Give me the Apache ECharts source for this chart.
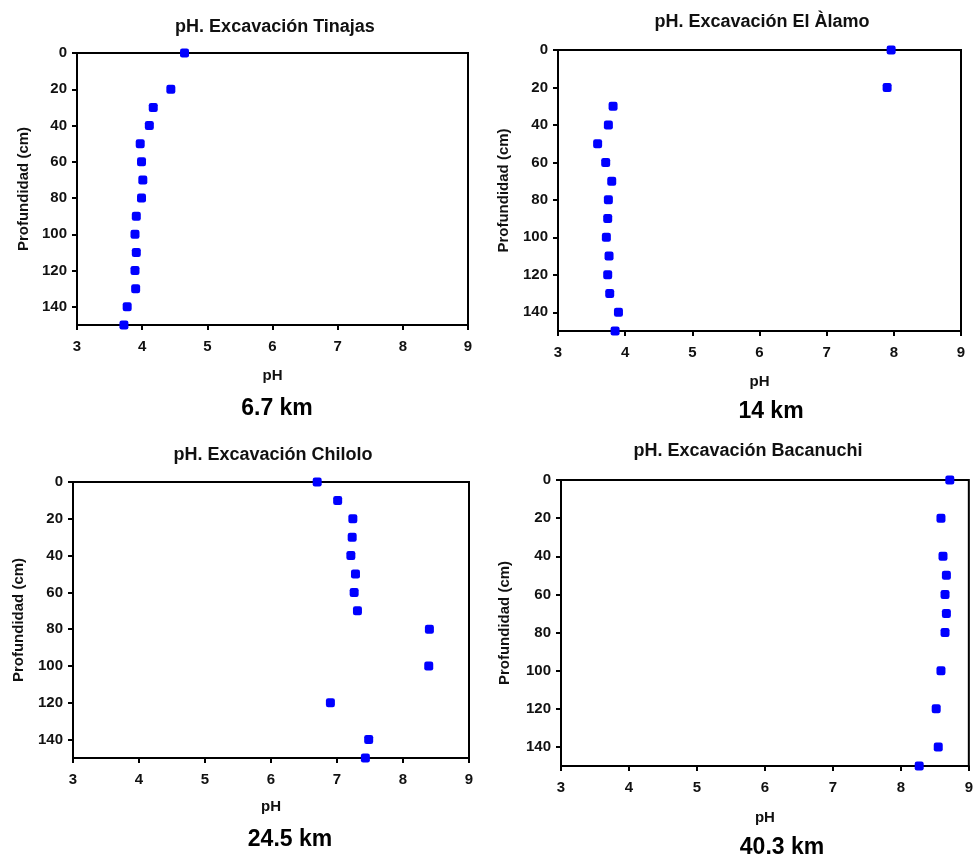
<!DOCTYPE html>
<html>
<head>
<meta charset="utf-8">
<script src="https://cdn.jsdelivr.net/npm/echarts@6/dist/echarts.min.js"></script>
<style>
  html, body { margin: 0; padding: 0; background: #fff; }
  #chart { width: 976px; height: 858px; }
</style>
</head>
<body>
<div id="chart"></div>
<script>
// Soil pH profiles by depth at four excavation sites
const titles = ['pH. Excavación Tinajas', 'pH. Excavación El Àlamo', 'pH. Excavación Chilolo', 'pH. Excavación Bacanuchi'];
const distances = ['6.7 km', '14 km', '24.5 km', '40.3 km'];

const tinajasDepth = [0, 20, 30, 40, 50, 60, 70, 80, 90, 100, 110, 120, 130, 140, 150];
const tinajasPH    = [4.65, 4.44, 4.17, 4.11, 3.97, 3.99, 4.01, 3.99, 3.91, 3.89, 3.91, 3.89, 3.90, 3.77, 3.72];

const alamoDepth = [0, 20, 30, 40, 50, 60, 70, 80, 90, 100, 110, 120, 130, 140, 150];
const alamoPH    = [7.96, 7.90, 3.82, 3.75, 3.59, 3.71, 3.80, 3.75, 3.74, 3.72, 3.76, 3.74, 3.77, 3.90, 3.85];

const chiloloDepth = [0, 10, 20, 30, 40, 50, 60, 70, 80, 100, 120, 140, 150];
const chiloloPH    = [6.70, 7.01, 7.24, 7.23, 7.21, 7.28, 7.26, 7.31, 8.40, 8.39, 6.90, 7.48, 7.43];

const bacanuchiDepth = [0, 20, 40, 50, 60, 70, 80, 100, 120, 140, 150];
const bacanuchiPH    = [8.72, 8.59, 8.62, 8.67, 8.65, 8.67, 8.65, 8.59, 8.52, 8.55, 8.27];

const phTicks = [3, 4, 5, 6, 7, 8, 9];
const depthTicks = [0, 20, 40, 60, 80, 100, 120, 140];

const sites = [
  { ph: tinajasPH, depth: tinajasDepth },
  { ph: alamoPH, depth: alamoDepth },
  { ph: chiloloPH, depth: chiloloDepth },
  { ph: bacanuchiPH, depth: bacanuchiDepth }
];

// panel layout: plot rectangles, title / distance label positions, axis-name gaps
const panels = [
  { left: 77,  top: 53,  width: 391, height: 272, titleX: 270, titleY: 13,  kmX: 277, kmY: 409, yGap: 46, xGap: 43 },
  { left: 558, top: 50,  width: 403, height: 281, titleX: 757, titleY: 8,   kmX: 771, kmY: 412, yGap: 47, xGap: 43 },
  { left: 73,  top: 482, width: 396, height: 276, titleX: 268, titleY: 441, kmX: 290, kmY: 840, yGap: 47, xGap: 41 },
  { left: 561, top: 480, width: 411, height: 286, titleX: 743, titleY: 437, kmX: 782, kmY: 848, yGap: 49, xGap: 44 }
];

const FONT = 'Liberation Sans, Arial, sans-serif';
const axisText = { color: '#111', fontWeight: 'bold', fontSize: 15, fontFamily: FONT };

const option = {
  animation: false,
  backgroundColor: '#fff',
  title: panels.map((p, i) => ({
    text: titles[i],
    left: p.titleX,
    top: p.titleY,
    textAlign: 'center',
    textStyle: { color: '#111', fontWeight: 'bold', fontSize: 18, fontFamily: FONT }
  })),
  grid: panels.map(p => ({
    left: p.left, top: p.top, width: p.width, height: p.height,
    show: true, borderColor: '#000', borderWidth: 2, backgroundColor: '#fff',
    containLabel: false
  })),
  xAxis: panels.map((p, i) => ({
    type: 'value', gridIndex: i,
    min: phTicks[0], max: phTicks[phTicks.length - 1], interval: 1,
    name: 'pH', nameLocation: 'middle', nameGap: p.xGap,
    nameTextStyle: { color: '#111', fontWeight: 'bold', fontSize: 15, fontFamily: FONT },
    axisLine: { show: true, onZero: false, lineStyle: { color: '#000', width: 2 } },
    axisTick: { show: true, inside: false, length: 5, lineStyle: { color: '#000', width: 2 } },
    axisLabel: Object.assign({ margin: 14 }, axisText),
    splitLine: { show: false }
  })),
  yAxis: panels.map((p, i) => ({
    type: 'value', gridIndex: i, inverse: true,
    min: 0, max: 150, interval: 20,
    name: 'Profundidad (cm)', nameLocation: 'middle', nameRotate: 90, nameGap: p.yGap,
    nameTextStyle: { color: '#111', fontWeight: 'bold', fontSize: 15, fontFamily: FONT },
    axisLine: { show: true, onZero: false, lineStyle: { color: '#000', width: 2 } },
    axisTick: {
      show: true, inside: false, length: 5, customValues: depthTicks,
      lineStyle: { color: '#000', width: 2 }
    },
    axisLabel: Object.assign({ margin: 10, customValues: depthTicks }, axisText),
    splitLine: { show: false }
  })),
  series: sites.map((s, i) => ({
    type: 'scatter',
    xAxisIndex: i, yAxisIndex: i,
    symbol: 'roundRect',
    symbolSize: 9,
    itemStyle: { color: '#0000ff', opacity: 1 },
    data: s.ph.map((v, k) => [v, s.depth[k]]),
    clip: false,
    z: 5
  })),
  graphic: panels.map((p, i) => ({
    type: 'text',
    x: p.kmX, y: p.kmY,
    style: {
      text: distances[i],
      fill: '#000',
      font: 'bold 23px ' + FONT,
      textAlign: 'center',
      textVerticalAlign: 'middle'
    }
  }))
};

const chart = echarts.init(document.getElementById('chart'), null, { renderer: 'canvas' });
chart.setOption(option);
</script>
</body>
</html>
